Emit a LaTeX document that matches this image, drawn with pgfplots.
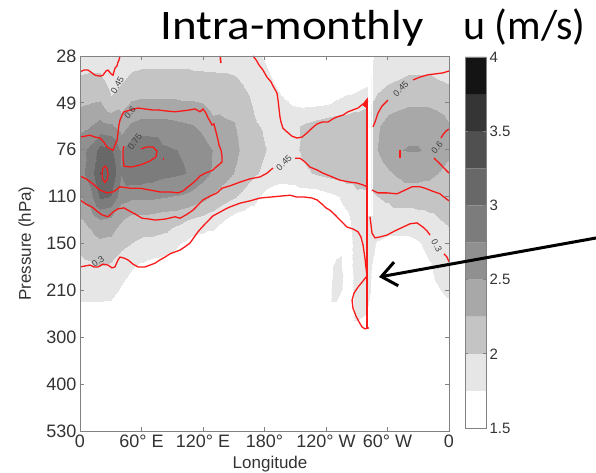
\documentclass[border=0pt]{standalone}
\usepackage{fontspec}
\setmainfont{Liberation Sans}
\newfontfamily\calibri{Carlito}
\usepackage{pgfplots}
\pgfplotsset{compat=1.18}
\usetikzlibrary{arrows.meta}
\definecolor{axgray}{RGB}{130,130,130}
\definecolor{cred}{RGB}{250,25,25}
\definecolor{cb0}{RGB}{255,255,255}
\definecolor{cb1}{RGB}{230,230,230}
\definecolor{cb2}{RGB}{196,196,196}
\definecolor{cb3}{RGB}{168,168,168}
\definecolor{cb4}{RGB}{144,144,144}
\definecolor{cb5}{RGB}{124,124,124}
\definecolor{cb6}{RGB}{104,104,104}
\definecolor{cb7}{RGB}{80,80,80}
\definecolor{cb8}{RGB}{53,53,53}
\definecolor{cb9}{RGB}{20,20,20}
\begin{document}
\begin{tikzpicture}
\useasboundingbox (0pt,0pt) rectangle (596pt,472pt);
\begin{axis}[
  at={(80pt,41pt)}, anchor=south west,
  scale only axis, width=369pt, height=375pt,
  xmin=0, xmax=360, ymin=0, ymax=8,
  axis on top,
  axis line style={draw=axgray, line width=0.9pt},
  tick style={draw=axgray, line width=0.8pt},
  tick align=inside, major tick length=4pt,
  xtick pos=both, ytick pos=both,
  xticklabel pos=lower, yticklabel pos=left,
  xtick={0,60,...,360},
  xticklabels={0,60° E,120° E,180°,120° W,60° W,0},
  ytick={0,1,...,8},
  yticklabels={530,400,300,210,150,110,76,49,28},
  ticklabel style={font=\fontsize{18}{18}\selectfont, text=black!80},
  xlabel={Longitude}, ylabel={Pressure (hPa)},
  label style={font=\fontsize{17}{17}\selectfont, text=black!80},
  xlabel style={at={(axis description cs:0.515,0)}, anchor=north, yshift=-22pt},
  ylabel style={at={(axis description cs:-0.145,0.5)}, anchor=center},
  colormap={ubands}{rgb255=(255,255,255) rgb255=(230,230,230) rgb255=(196,196,196) rgb255=(168,168,168) rgb255=(144,144,144) rgb255=(124,124,124) rgb255=(104,104,104) rgb255=(80,80,80) rgb255=(53,53,53) rgb255=(20,20,20) rgb255=(20,20,20)},
  colormap access=piecewise constant,
  point meta min=1.5, point meta max=4,
]
% u (m/s) field, rows from 28 hPa (index 8) down to 300 hPa (index 2), columns 0..360 deg every 10 deg
\addplot[surf, shader=interp, mesh/cols=37, mesh/ordering=x varies, point meta=explicit]
 table[header=false, row sep=\\, meta index=0,
   x expr={10*(\coordindex-37*floor((\coordindex+0.5)/37))},
   y expr={8-0.5*floor((\coordindex+0.5)/37)}] {
1.85\\1.85\\1.83\\1.72\\1.78\\1.85\\1.87\\1.88\\1.88\\1.88\\1.88\\1.88\\1.87\\1.86\\1.85\\1.83\\1.8\\1.78\\1.7\\1.6\\1.6\\1.6\\1.6\\1.6\\1.6\\1.6\\1.6\\1.6\\1.6\\1.8\\1.85\\1.85\\1.85\\1.85\\1.85\\1.85\\1.85\\
1.98\\2.0\\2.0\\1.85\\1.92\\2.0\\2.02\\2.02\\2.02\\2.02\\2.02\\2.0\\2.0\\2.0\\2.0\\1.98\\1.92\\1.86\\1.8\\1.7\\1.6\\1.6\\1.6\\1.6\\1.6\\1.6\\1.6\\1.6\\1.65\\1.85\\1.92\\1.95\\1.98\\1.98\\1.98\\1.95\\1.92\\
2.15\\2.18\\2.2\\2.0\\2.1\\2.2\\2.22\\2.22\\2.22\\2.22\\2.2\\2.2\\2.18\\2.1\\2.12\\2.1\\2.02\\1.93\\1.86\\1.82\\1.75\\1.7\\1.68\\1.68\\1.7\\1.75\\1.8\\1.85\\1.9\\2.02\\2.08\\2.12\\2.15\\2.15\\2.15\\2.12\\2.08\\
2.35\\2.4\\2.5\\2.45\\2.3\\2.45\\2.5\\2.5\\2.5\\2.48\\2.45\\2.42\\2.35\\2.25\\2.22\\2.2\\2.08\\1.98\\1.93\\1.9\\1.88\\1.92\\2.0\\2.06\\2.1\\2.12\\2.12\\2.12\\2.12\\2.15\\2.28\\2.32\\2.36\\2.36\\2.33\\2.28\\2.2\\
2.55\\2.7\\2.95\\2.9\\2.6\\2.8\\2.85\\2.8\\2.68\\2.65\\2.62\\2.58\\2.5\\2.4\\2.3\\2.25\\2.12\\2.03\\1.96\\1.92\\1.88\\1.92\\2.02\\2.08\\2.12\\2.12\\2.12\\2.12\\2.12\\2.18\\2.32\\2.4\\2.42\\2.42\\2.38\\2.3\\2.22\\
2.55\\2.75\\3.1\\3.05\\2.65\\2.8\\2.8\\2.75\\2.7\\2.68\\2.65\\2.6\\2.5\\2.38\\2.28\\2.18\\2.06\\1.98\\1.92\\1.85\\1.82\\1.85\\1.92\\1.98\\2.02\\2.05\\2.08\\2.08\\2.05\\2.05\\2.15\\2.22\\2.28\\2.28\\2.25\\2.18\\2.12\\
2.4\\2.55\\2.9\\2.85\\2.5\\2.45\\2.45\\2.45\\2.42\\2.4\\2.38\\2.33\\2.25\\2.15\\2.05\\1.97\\1.9\\1.8\\1.65\\1.6\\1.6\\1.6\\1.6\\1.6\\1.65\\1.7\\1.8\\1.9\\1.92\\1.95\\1.98\\2.02\\2.02\\2.02\\2.02\\2.02\\2.02\\
2.15\\2.25\\2.4\\2.35\\2.2\\2.1\\2.1\\2.08\\2.05\\2.03\\1.98\\1.92\\1.88\\1.82\\1.73\\1.64\\1.6\\1.6\\1.6\\1.6\\1.6\\1.6\\1.6\\1.6\\1.6\\1.6\\1.68\\1.82\\1.85\\1.88\\1.88\\1.88\\1.88\\1.9\\1.92\\1.95\\1.98\\
2.0\\2.05\\2.12\\2.1\\2.0\\1.95\\1.9\\1.9\\1.88\\1.8\\1.7\\1.62\\1.6\\1.6\\1.6\\1.6\\1.6\\1.6\\1.6\\1.6\\1.6\\1.6\\1.6\\1.6\\1.6\\1.6\\1.65\\1.8\\1.85\\1.7\\1.65\\1.65\\1.65\\1.7\\1.8\\1.85\\1.9\\
1.9\\1.92\\1.95\\1.92\\1.85\\1.75\\1.68\\1.62\\1.6\\1.6\\1.6\\1.6\\1.6\\1.6\\1.6\\1.6\\1.6\\1.6\\1.6\\1.6\\1.6\\1.6\\1.6\\1.6\\1.6\\1.8\\1.65\\1.8\\1.82\\1.6\\1.6\\1.6\\1.6\\1.6\\1.7\\1.8\\1.85\\
1.85\\1.85\\1.85\\1.82\\1.7\\1.62\\1.6\\1.6\\1.6\\1.6\\1.6\\1.6\\1.6\\1.6\\1.6\\1.6\\1.6\\1.6\\1.6\\1.6\\1.6\\1.6\\1.6\\1.6\\1.6\\1.85\\1.62\\1.8\\1.8\\1.6\\1.6\\1.6\\1.6\\1.6\\1.65\\1.72\\1.78\\
1.6\\1.6\\1.6\\1.6\\1.6\\1.6\\1.6\\1.6\\1.6\\1.6\\1.6\\1.6\\1.6\\1.6\\1.6\\1.6\\1.6\\1.6\\1.6\\1.6\\1.6\\1.6\\1.6\\1.6\\1.6\\1.6\\1.6\\1.78\\1.72\\1.6\\1.6\\1.6\\1.6\\1.6\\1.6\\1.6\\1.6\\
1.6\\1.6\\1.6\\1.6\\1.6\\1.6\\1.6\\1.6\\1.6\\1.6\\1.6\\1.6\\1.6\\1.6\\1.6\\1.6\\1.6\\1.6\\1.6\\1.6\\1.6\\1.6\\1.6\\1.6\\1.6\\1.6\\1.6\\1.6\\1.6\\1.6\\1.6\\1.6\\1.6\\1.6\\1.6\\1.6\\1.6\\
};
% white stripe near 80W
\addplot[fill=white, draw=white, line width=0.2pt] coordinates {(281.3,4.61) (284.6,4.61) (284.6,8) (281.3,8) (281.3,4.61)};
% red contour lines
\addplot[cred, line width=1.3pt] coordinates {(0,7.66) (3.9,7.70) (7.8,7.70) (11.7,7.64) (14.6,7.59) (19.5,7.57) (22.4,7.59) (25.4,7.68) (27.3,7.70) (30.2,7.62) (32.2,7.59) (34.1,7.74) (36.1,7.79) (37.1,7.87) (38.0,7.91) (39.0,8.0)};
\addplot[cred, line width=1.3pt] coordinates {(0,6.27) (4.9,6.29) (9.8,6.31) (14.6,6.27) (19.5,6.25) (23.4,6.16) (26.3,6.06) (29.3,6.02) (32.2,5.99) (34.1,6.10) (36.1,6.19) (37.1,6.38) (38.0,6.53) (39.0,6.63) (41.0,6.74) (42.9,6.81) (56.6,6.89) (63.4,6.87) (70.2,6.85) (76.1,6.85) (82.9,6.83) (92.7,6.81) (100.5,6.83) (107.3,6.85) (112.2,6.87) (117.1,6.81) (120.0,6.87) (122.9,6.78) (124.9,6.68) (126.8,6.61) (128.8,6.53) (130.7,6.55) (132.7,6.38) (134.6,6.21) (135.6,6.10) (137.6,5.99) (138.5,5.87) (138.5,5.74) (136.6,5.70) (132.7,5.63) (129.8,5.57) (125.9,5.53) (122.0,5.50) (117.1,5.44) (113.2,5.35) (110.2,5.29) (105.4,5.21) (100.5,5.12) (95.6,5.08) (87.8,5.10) (78.0,5.10) (68.3,5.14) (58.5,5.18) (48.8,5.18) (39.0,5.21) (35.1,5.14) (32.2,5.10) (26.3,5.08) (19.5,5.14) (12.7,5.27) (5.9,5.38) (0,5.44)};
\addplot[cred, line width=1.3pt] coordinates {(0,4.93) (5.9,4.84) (11.7,4.78) (16.6,4.69) (21.5,4.61) (27.3,4.57) (32.2,4.67) (37.1,4.74) (42.9,4.76) (46.8,4.71) (53.7,4.63) (60.5,4.54) (68.3,4.52) (73.2,4.50) (82.9,4.52) (92.7,4.57) (97.6,4.54) (103.4,4.61) (110.2,4.71) (115.1,4.82) (120.0,4.93) (126.8,5.01) (133.7,5.08) (138.5,5.18) (146.3,5.23) (156.1,5.31) (165.9,5.38) (175.6,5.42) (182.4,5.50) (188.3,5.61)};
\addplot[cred, line width=1.3pt] coordinates {(209.8,5.82) (214.6,5.82) (219.5,5.74) (224.4,5.63) (231.2,5.57) (237.1,5.50) (243.9,5.44) (253.7,5.35) (263.4,5.31) (270.2,5.29) (276.1,5.25) (280.0,5.21)};
\addplot[cred, line width=1.3pt] coordinates {(284.9,5.14) (290.7,5.08) (299.5,5.08) (309.3,5.06) (317.1,5.14) (323.9,5.21) (331.7,5.21) (336.6,5.18) (343.4,5.12) (351.2,5.06) (355.1,4.99) (360,4.91)};
\addplot[cred, line width=1.3pt] coordinates {(0,3.50) (4.9,3.52) (9.8,3.54) (13.7,3.50) (17.6,3.50) (22.4,3.56) (27.3,3.54) (31.2,3.48) (34.1,3.50) (37.1,3.65) (39.0,3.71) (42.9,3.69) (46.8,3.65) (51.7,3.56) (56.6,3.50) (63.4,3.50) (68.3,3.54) (73.2,3.58) (78.0,3.65) (82.9,3.71) (87.8,3.78) (92.7,3.82) (97.6,3.86) (102.4,3.93) (107.3,4.01) (112.2,4.16) (115.1,4.25) (120.0,4.37) (123.9,4.46) (129.8,4.59) (136.6,4.67) (142.4,4.74) (146.3,4.78) (156.1,4.86) (165.9,4.91) (175.6,4.97) (185.4,4.99) (195.1,5.01) (204.9,5.03) (211.7,4.99) (219.5,4.99) (226.3,4.97) (231.2,4.93) (236.1,4.84) (240.0,4.76) (243.9,4.71) (248.8,4.61) (254.6,4.48) (260.5,4.35) (266.3,4.31) (271.2,4.25) (274.1,4.14) (276.1,3.97) (278.0,3.69) (279.0,3.48) (280.0,3.31) (276.1,3.20) (271.2,3.07) (267.3,2.94) (265.4,2.79) (266.3,2.62) (269.3,2.45) (272.2,2.33) (275.1,2.22) (278.0,2.18) (282.0,2.20)};
\addplot[cred, line width=1.3pt] coordinates {(282.9,4.57) (284.9,4.22) (287.8,4.12) (292.7,4.14) (299.5,4.18) (307.3,4.27) (315.1,4.35) (322.0,4.42) (328.8,4.44) (334.6,4.35) (338.5,4.27) (341.5,4.18)};
\addplot[cred, line width=1.3pt] coordinates {(355.1,3.78) (358.0,3.71) (360,3.61)};
\addplot[cred, line width=1.3pt] coordinates {(168.8,8) (171.7,7.92) (174.6,7.81) (178.5,7.70) (182.4,7.55) (186.3,7.45) (189.3,7.32) (192.2,7.21) (193.2,7.06) (194.1,6.89) (195.1,6.70) (196.1,6.59) (198.0,6.46) (202.0,6.38) (206.8,6.29) (211.7,6.25) (216.6,6.27) (221.5,6.36) (226.3,6.46) (231.2,6.55) (236.1,6.59) (242.0,6.59) (246.8,6.66) (250.7,6.70) (256.6,6.74) (261.5,6.81) (266.3,6.85) (271.2,6.89) (275.1,6.96) (278.0,7.00) (281.0,7.04)};
\addplot[cred, line width=1.3pt] coordinates {(285.9,6.49) (287.8,6.59) (290.7,6.78) (294.6,6.93) (300.5,7.06)};
\addplot[cred, line width=1.3pt] coordinates {(324.9,7.49) (331.7,7.55) (339.5,7.60) (347.3,7.62) (354.1,7.64) (360,7.68)};
\addplot[cred, line width=1.3pt] coordinates {(360,6.44) (357.1,6.40) (354.1,6.32) (352.2,6.25)};
\addplot[cred, line width=1.3pt] coordinates {(345.4,5.82) (348.3,5.76) (351.2,5.70) (355.1,5.61) (360,5.50)};
\addplot[cred, line width=1.3pt] coordinates {(59.5,6.02) (65.4,6.06) (71.2,6.06) (75.1,5.97) (74.1,5.85) (68.3,5.76) (59.5,5.68) (49.8,5.63) (42.9,5.65) (42.0,5.82) (42.0,6.00) (42.9,6.08)};
\addplot[cred, line width=1.2pt] coordinates {(24.4,5.66) (26.8,5.58) (27.3,5.48) (26.8,5.38) (24.4,5.30) (22.0,5.38) (21.5,5.48) (22.0,5.58) (24.4,5.66)};
\addplot[cred, line width=2pt] coordinates {(80.5,5.80) (81.8,5.80)};
\addplot[cred, line width=1.6pt] coordinates {(312.2,5.99) (312.2,5.82)};
\addplot[cred, line width=1.6pt] coordinates {(136.8,8) (137.4,7.85)};
\addplot[cred, line width=2pt] coordinates {(280.4,7.02) (280.4,2.19)};
\addplot[cred, fill=cred, line width=0.5pt] coordinates {(275.5,6.96) (280.5,7.10) (280.5,6.88) (275.5,6.96)};
% contour labels
\begin{scope}[every node/.style={font=\fontsize{9}{9}\selectfont, text=black!75, inner sep=0.5pt}]
\node[rotate=60] at (axis cs:36.5,7.38) {0.45};
\node[rotate=50] at (axis cs:48.8,6.80) {0.6};
\node[rotate=55] at (axis cs:53.5,6.18) {0.75};
\node[rotate=45] at (axis cs:199,5.72) {0.45};
\node[rotate=45] at (axis cs:313,7.30) {0.45};
\node[rotate=50] at (axis cs:348.3,6.04) {0.6};
\node[rotate=-60] at (axis cs:348,3.95) {0.3};
\node[rotate=35] at (axis cs:17.6,3.62) {0.3};
\end{scope}
\end{axis}
% colour bar
\begin{axis}[
  at={(465pt,44pt)}, anchor=south west,
  scale only axis, width=21pt, height=371pt,
  xmin=0, xmax=1, ymin=1.5, ymax=4,
  axis on top,
  axis line style={draw=axgray, line width=0.9pt},
  tick style={draw=axgray, line width=0.7pt},
  tick align=inside, major tick length=3pt,
  xtick=\empty,
  ytick={1.5,2,...,4},
  ytick pos=both, yticklabel pos=right,
  yticklabel style={font=\fontsize{15}{15}\selectfont, text=black!80, /pgf/number format/assume math mode=true},
]
\addplot[fill=cb0, draw=none] coordinates {(0,1.5) (1,1.5) (1,1.75) (0,1.75) (0,1.5)};
\addplot[fill=cb1, draw=none] coordinates {(0,1.75) (1,1.75) (1,2) (0,2) (0,1.75)};
\addplot[fill=cb2, draw=none] coordinates {(0,2) (1,2) (1,2.25) (0,2.25) (0,2)};
\addplot[fill=cb3, draw=none] coordinates {(0,2.25) (1,2.25) (1,2.5) (0,2.5) (0,2.25)};
\addplot[fill=cb4, draw=none] coordinates {(0,2.5) (1,2.5) (1,2.75) (0,2.75) (0,2.5)};
\addplot[fill=cb5, draw=none] coordinates {(0,2.75) (1,2.75) (1,3) (0,3) (0,2.75)};
\addplot[fill=cb6, draw=none] coordinates {(0,3) (1,3) (1,3.25) (0,3.25) (0,3)};
\addplot[fill=cb7, draw=none] coordinates {(0,3.25) (1,3.25) (1,3.5) (0,3.5) (0,3.25)};
\addplot[fill=cb8, draw=none] coordinates {(0,3.5) (1,3.5) (1,3.75) (0,3.75) (0,3.5)};
\addplot[fill=cb9, draw=none] coordinates {(0,3.75) (1,3.75) (1,4) (0,4) (0,3.75)};
\end{axis}
% titles
\node[anchor=base west, inner sep=0pt, font=\calibri\fontsize{42}{42}\selectfont, xscale=1.12] at (160pt,432pt) {Intra-monthly};
\node[anchor=base west, inner sep=0pt, font=\calibri\fontsize{42}{42}\selectfont] at (463pt,432pt) {u (m/s)};
% arrow
\draw[line width=3pt, black, -{Straight Barb[length=15pt,width=24pt]}] (596pt,234pt) -- (379pt,195pt);
\end{tikzpicture}
\end{document}
